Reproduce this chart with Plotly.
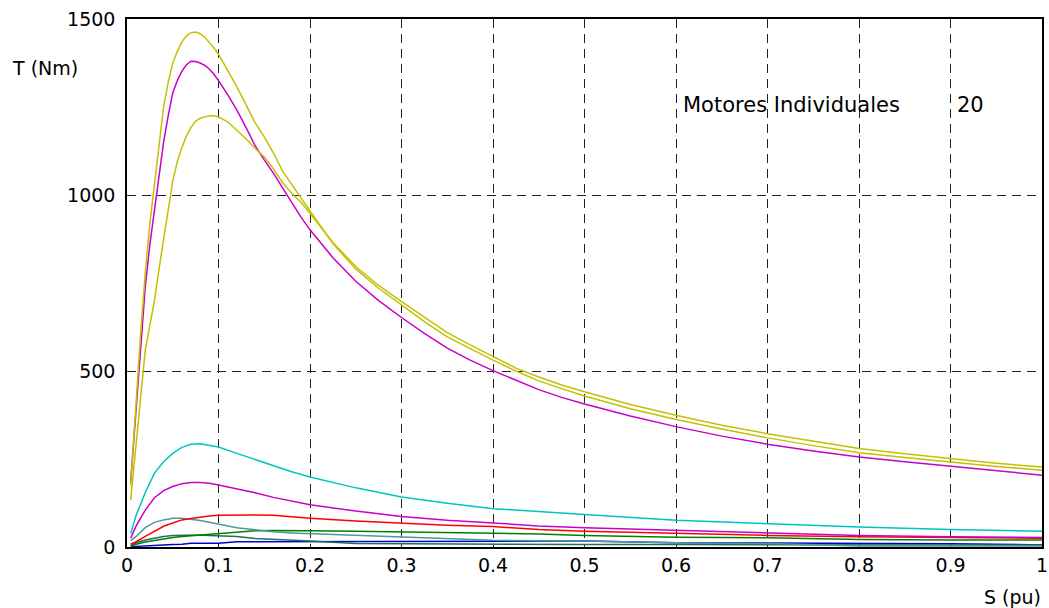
import plotly.graph_objects as go

# Slip (pu) sampling for the three large motors
slip_big = [0.004, 0.01, 0.015, 0.02, 0.025, 0.03, 0.035, 0.04, 0.045, 0.05,
            0.055, 0.06, 0.065, 0.07, 0.075, 0.08, 0.085, 0.09, 0.095, 0.1,
            0.11, 0.12, 0.13, 0.14, 0.15, 0.16, 0.17, 0.18, 0.19, 0.2,
            0.225, 0.25, 0.275, 0.3, 0.325, 0.35, 0.375, 0.4, 0.425, 0.45,
            0.475, 0.5, 0.55, 0.6, 0.65, 0.7, 0.75, 0.8, 0.85, 0.9, 0.95, 1.0]

t_yellow_a = [175, 420, 610, 780, 920, 1030, 1150, 1250, 1320, 1375,
              1408, 1435, 1452, 1461, 1463, 1458, 1448, 1434, 1418, 1400,
              1355, 1308, 1257, 1205, 1165, 1120, 1068, 1030, 990, 955,
              862, 790, 735, 687, 640, 597, 563, 531, 500, 472,
              450, 429, 393, 362, 335, 310, 288, 268, 254, 241, 229, 218]
t_yellow_b = [133, 300, 440, 560, 630, 700, 790, 870, 955, 1040,
              1095, 1135, 1168, 1192, 1210, 1218, 1222, 1225, 1225, 1222,
              1208, 1185, 1160, 1133, 1108, 1075, 1035, 1005, 980, 948,
              865, 797, 743, 697, 652, 609, 574, 542, 508, 483,
              460, 441, 405, 374, 346, 322, 300, 280, 265, 251, 238, 227]
t_magenta_a = [185, 400, 570, 740, 860, 960, 1060, 1150, 1225, 1290,
               1325, 1352, 1370, 1380, 1379, 1375, 1368, 1358, 1343, 1325,
               1285, 1242, 1192, 1140, 1100, 1062, 1020, 978, 938, 901,
               822, 755, 700, 652, 607, 565, 531, 501, 474, 447,
               425, 406, 372, 342, 315, 292, 273, 256, 242, 229, 216, 204]

# Slip (pu) sampling for the smaller motors
slip = [0.004, 0.01, 0.02, 0.03, 0.04, 0.05, 0.06, 0.07, 0.08, 0.09, 0.1,
        0.12, 0.14, 0.16, 0.18, 0.2, 0.25, 0.3, 0.35, 0.4, 0.45, 0.5,
        0.6, 0.7, 0.8, 0.9, 1.0]

t_cyan = [38, 90, 155, 210, 242, 266, 283, 292, 293, 289, 284,
          266, 248, 230, 214, 199, 168, 142, 124, 109, 100, 92,
          76, 66, 57, 50, 45]
t_magenta_b = [25, 60, 105, 140, 160, 172, 180, 183, 183, 181, 176,
               166, 154, 141, 130, 120, 102, 87, 76, 67, 60, 55,
               47, 40, 33, 29, 27]
t_red = [8, 15, 30, 45, 59, 68, 77, 81, 85, 88, 90,
         91, 91, 90, 85, 82, 74, 67, 62, 58, 50, 45,
         38, 33, 29, 26, 25]
t_teal = [18, 30, 55, 70, 77, 82, 82, 79, 75, 70, 65,
          55, 49, 43, 40, 38, 33, 28, 22, 19, 18, 17,
          12, 10, 3, 3, 3]
t_green = [3, 8, 14, 19, 23, 27, 30, 32, 34, 36, 38,
           42, 46, 47, 47.5, 46, 45, 43, 42, 40, 37, 33,
           28, 26, 21, 20, 20]
t_darkgreen = [5, 12, 20, 26, 30, 33, 34, 34, 34, 33, 32,
               30, 24, 21, 19, 17, 10, 9, 8, 8, 8, 7,
               7, 6, 6, 6, 6]
t_blue = [1, 2, 4, 5, 6, 7, 8, 11, 11, 11, 11,
          15, 15, 16, 16, 17, 17, 17, 17, 17, 17, 17,
          12, 11, 11, 9, 6]

series = [
    (slip, t_blue, "#0000cc"),
    (slip, t_darkgreen, "#1f6f5a"),
    (slip, t_green, "#008000"),
    (slip, t_teal, "#4a9a9a"),
    (slip, t_red, "#ff0000"),
    (slip, t_magenta_b, "#c800c8"),
    (slip, t_cyan, "#00c4c4"),
    (slip_big, t_magenta_a, "#c800c8"),
    (slip_big, t_yellow_b, "#c4c000"),
    (slip_big, t_yellow_a, "#c4c000"),
]

x_ticks = [0, 0.1, 0.2, 0.3, 0.4, 0.5, 0.6, 0.7, 0.8, 0.9, 1]
x_tick_text = ["0", "0.1", "0.2", "0.3", "0.4", "0.5", "0.6", "0.7", "0.8", "0.9", "1"]
y_ticks = [0, 500, 1000, 1500]
y_tick_text = ["0", "500", "1000", "1500"]

FONT = "DejaVu Sans"
W, H = 1049, 608
ML, MR, MT, MB = 127, 7, 19, 61
plot_w = W - ML - MR
plot_h = H - MT - MB

fig = go.Figure()
for xs, torque, color in series:
    fig.add_trace(go.Scatter(x=xs, y=torque, mode="lines",
                             line=dict(color=color, width=1.5),
                             showlegend=False, hoverinfo="skip"))

axis_common = dict(
    showline=True, linecolor="black", linewidth=1.5, mirror=True,
    showgrid=True, gridcolor="#222222", gridwidth=1, griddash="9px,6px",
    zeroline=False, ticks="", automargin=False,
    tickfont=dict(family=FONT, size=19, color="black"),
)

fig.update_xaxes(range=[0, 1], tickvals=x_ticks, ticktext=x_tick_text,
                 ticklabelstandoff=0, **axis_common)
fig.update_yaxes(range=[0, 1500], tickvals=y_ticks, ticktext=y_tick_text,
                 ticklabelstandoff=6, **axis_common)

fig.add_annotation(x=0.606, y=1256, xref="x", yref="y", xanchor="left",
                   yanchor="middle", text="Motores Individuales",
                   showarrow=False, font=dict(family=FONT, size=21, color="black"))
fig.add_annotation(x=0.905, y=1256, xref="x", yref="y", xanchor="left",
                   yanchor="middle", text="20",
                   showarrow=False, font=dict(family=FONT, size=21, color="black"))

# Axis titles placed by pixel position, expressed as paper fractions
fig.add_annotation(x=(10 - ML) / plot_w, y=(H - 68 - MB) / plot_h,
                   xref="paper", yref="paper", xanchor="left", yanchor="middle",
                   text="T (Nm)", showarrow=False,
                   font=dict(family=FONT, size=19, color="black"))
fig.add_annotation(x=(1043 - ML) / plot_w, y=(H - 597 - MB) / plot_h,
                   xref="paper", yref="paper", xanchor="right", yanchor="middle",
                   text="S (pu)", showarrow=False,
                   font=dict(family=FONT, size=19, color="black"))

fig.update_layout(
    width=W, height=H,
    margin=dict(l=ML, r=MR, t=MT, b=MB),
    paper_bgcolor="white", plot_bgcolor="white",
    font=dict(family=FONT, size=19, color="black"),
)

fig.write_html("out.html")
